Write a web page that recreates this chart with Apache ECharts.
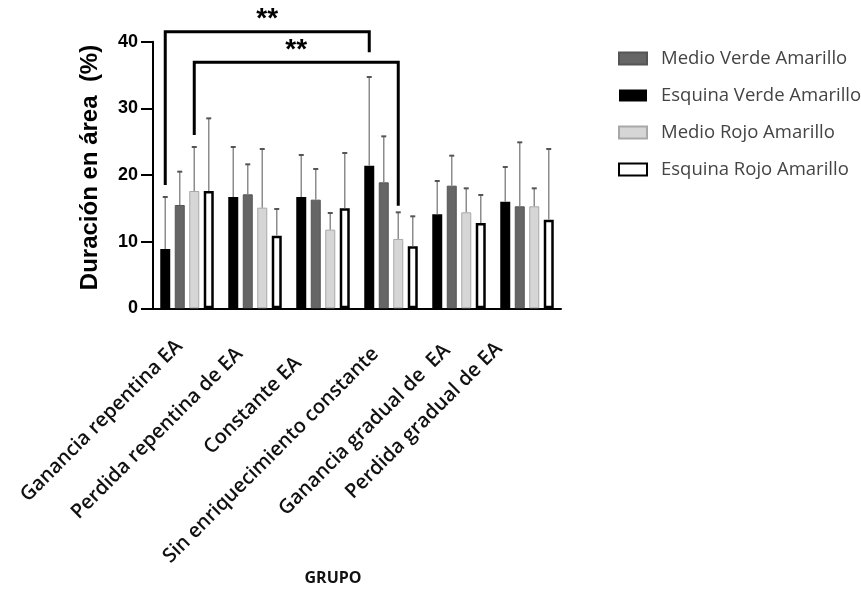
<!DOCTYPE html>
<html>
<head>
<meta charset="utf-8">
<script src="https://cdn.jsdelivr.net/npm/echarts@6/dist/echarts.min.js"></script>
<style>
  html, body { margin: 0; padding: 0; background: #fff; }
  #chart { width: 861px; height: 589px; }
</style>
</head>
<body>
<div id="chart"></div>
<script>
// Groups on the x axis
const grupos = [
  'Ganancia repentina EA',
  'Perdida repentina de EA',
  'Constante EA',
  'Sin enriquecimiento constante',
  'Ganancia gradual de  EA',
  'Perdida gradual de EA'
];

// Mean time in area (%) per group
const esquinaVerde = [8.9, 16.7, 16.7, 21.4, 14.1, 16.0];
const medioVerde   = [15.5, 17.1, 16.3, 18.9, 18.4, 15.3];
const medioRojo    = [17.6, 15.1, 11.8, 10.4, 14.4, 15.3];
const esquinaRojo  = [17.6, 10.9, 15.0, 9.3, 12.8, 13.3];

// Standard deviation (upper error bar) per group
const esquinaVerdeSD = [7.8, 7.5, 6.3, 13.3, 5.0, 5.2];
const medioVerdeSD   = [5.0, 4.5, 4.6, 6.9, 4.5, 9.6];
const medioRojoSD    = [6.6, 8.8, 2.5, 4.0, 3.6, 2.7];
const esquinaRojoSD  = [10.9, 4.0, 8.3, 4.5, 4.2, 10.6];

// Y axis ticks
const yTicks = [0, 10, 20, 30, 40];

// Significance brackets: [group A, bar A, end A, group B, bar B, end B, bracket height]
const comparaciones = [
  [0, 0, 18.5, 3, 0, 38.4, 41.5],
  [0, 2, 26.0, 3, 2, 15.4, 36.9]
];
const significancia = ['**', '**'];

const nombres = ['Esquina Verde Amarillo', 'Medio Verde Amarillo', 'Medio Rojo Amarillo', 'Esquina Rojo Amarillo'];
const medias = [esquinaVerde, medioVerde, medioRojo, esquinaRojo];
const desvios = [esquinaVerdeSD, medioVerdeSD, medioRojoSD, esquinaRojoSD];

// Bar styling
const BAR_W = 10;
const BAR_GAP = 0.45;
const PASO = BAR_W * (1 + BAR_GAP);
const estilos = [
  { color: '#000000', borderColor: '#000000', borderWidth: 0 },
  { color: '#666666', borderColor: '#555555', borderWidth: 1 },
  { color: '#d6d6d6', borderColor: '#a8a8a8', borderWidth: 1 },
  { color: '#ffffff', borderColor: '#000000', borderWidth: 2.5 }
];

// Hand-placed nudges for the slanted group names:
// right padding slides a name down along its slant, an extra blank line lifts it
const corrimientoEtiquetas = [11, 22, 35, 22, 17, 27];
const lineaExtra = [false, false, false, false, false, true];

const barSeries = nombres.map((n, i) => ({
  name: n,
  type: 'bar',
  data: medias[i],
  barWidth: BAR_W,
  barGap: (BAR_GAP * 100) + '%',
  itemStyle: estilos[i],
  z: 2
}));

// Error bar data: [group, bar index, mean, mean + sd]
const errorData = [];
medias.forEach((serie, s) => {
  serie.forEach((m, g) => errorData.push([g, s, m, +(m + desvios[s][g]).toFixed(2)]));
});

const errorSeries = {
  type: 'custom',
  name: 'error',
  data: errorData,
  encode: { x: 0, y: [2, 3] },
  z: 3,
  renderItem: function (params, api) {
    const g = api.value(0), s = api.value(1);
    const base = api.coord([g, api.value(2)]);
    const top = api.coord([g, api.value(3)]);
    const x = base[0] + (s - 1.5) * PASO;
    return {
      type: 'group',
      children: [
        { type: 'line', shape: { x1: x, y1: base[1], x2: x, y2: top[1] }, style: { stroke: '#8c8c8c', lineWidth: 1.5 } },
        { type: 'line', shape: { x1: x - 2.5, y1: top[1], x2: x + 2.5, y2: top[1] }, style: { stroke: '#555', lineWidth: 2 } }
      ]
    };
  }
};

const bracketSeries = {
  type: 'custom',
  name: 'significancia',
  data: comparaciones,
  encode: { x: [0, 3], y: [2, 5, 6] },
  clip: false,
  z: 4,
  renderItem: function (params, api) {
    const a = api.coord([api.value(0), api.value(2)]);
    const b = api.coord([api.value(3), api.value(5)]);
    const h = api.coord([api.value(0), api.value(6)])[1];
    const xa = a[0] + (api.value(1) - 1.5) * PASO;
    const xb = b[0] + (api.value(4) - 1.5) * PASO;
    return {
      type: 'group',
      children: [
        {
          type: 'polyline',
          shape: { points: [[xa, a[1]], [xa, h], [xb, h], [xb, b[1]]] },
          style: { stroke: '#000', lineWidth: 3, fill: null }
        },
        {
          type: 'text',
          x: (xa + xb) / 2,
          y: h + 2,
          style: {
            text: significancia[params.dataIndex],
            fill: '#000',
            font: 'bold 28px "Liberation Sans", Arial, sans-serif',
            align: 'center',
            verticalAlign: 'bottom'
          }
        }
      ]
    };
  }
};

const chart = echarts.init(document.getElementById('chart'), null, { renderer: 'canvas' });
chart.setOption({
  animation: false,
  backgroundColor: '#ffffff',
  grid: { left: 153, right: 300, top: 41.7, bottom: 280.7, containLabel: false },
  legend: {
    orient: 'vertical',
    left: 618,
    top: 49,
    padding: 0,
    icon: 'rect',
    itemWidth: 28,
    itemHeight: 12,
    itemGap: 18,
    data: ['Medio Verde Amarillo', 'Esquina Verde Amarillo', 'Medio Rojo Amarillo', 'Esquina Rojo Amarillo'],
    textStyle: { fontFamily: '"Open Sans", sans-serif', fontSize: 18.5, color: '#444', padding: [0, 0, 0, 9] }
  },
  xAxis: {
    type: 'category',
    data: grupos.map((g, i) => ({
      value: g,
      textStyle: { padding: [0, corrimientoEtiquetas[i], 0, 0], lineHeight: lineaExtra[i] ? 25 : 22 }
    })),
    name: 'GRUPO',
    nameLocation: 'middle',
    nameGap: 262,
    nameTextStyle: { fontFamily: '"Open Sans", sans-serif', fontWeight: 'bold', fontSize: 16, color: '#111', padding: [0, 48, 0, 0] },
    axisLine: { lineStyle: { color: '#000', width: 2 } },
    axisTick: { alignWithLabel: true, length: 8, lineStyle: { color: '#000', width: 2 } },
    axisLabel: {
      interval: 0,
      rotate: 45,
      margin: 27,
      fontFamily: '"Open Sans", sans-serif',
      fontWeight: 600,
      fontSize: 20,
      color: '#111',
      formatter: function (value, index) {
        return lineaExtra[index] ? value + '\n ' : value;
      }
    }
  },
  yAxis: {
    type: 'value',
    min: yTicks[0],
    max: yTicks[yTicks.length - 1],
    interval: yTicks[1] - yTicks[0],
    name: 'Duración en área  (%)',
    nameLocation: 'middle',
    nameGap: 51,
    nameTextStyle: { fontFamily: '"Liberation Sans", Arial, sans-serif', fontWeight: 'bold', fontSize: 24, color: '#000', padding: [0, 0, 0, 15] },
    splitLine: { show: false },
    axisLine: { show: true, lineStyle: { color: '#000', width: 2 } },
    axisTick: { show: true, length: 12, lineStyle: { color: '#000', width: 2 } },
    axisLabel: { margin: 15, fontFamily: '"Liberation Sans", Arial, sans-serif', fontWeight: 'bold', fontSize: 18, color: '#000' }
  },
  series: barSeries.concat([errorSeries, bracketSeries])
});
</script>
</body>
</html>
